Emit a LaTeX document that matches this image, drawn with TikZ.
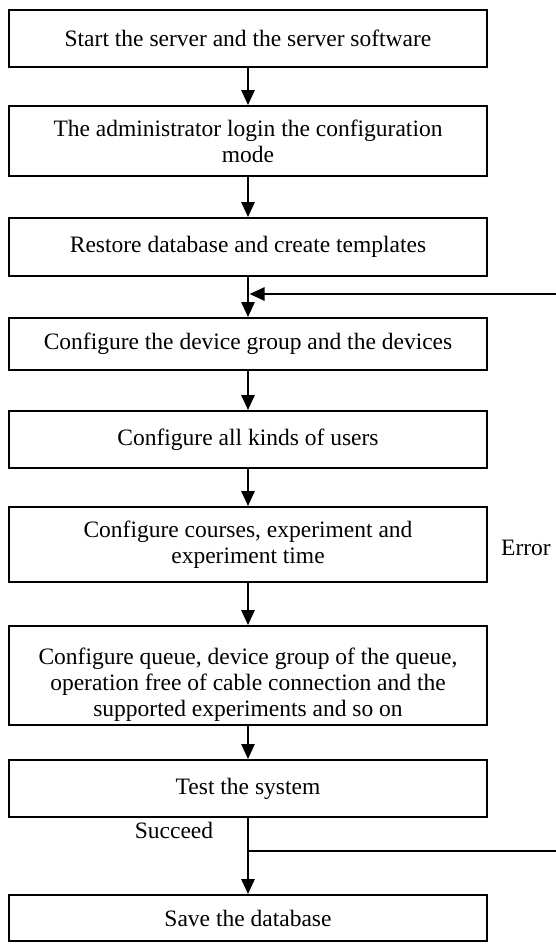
\documentclass[tikz,border=0pt]{standalone}
\usepackage{fontspec}
\setmainfont{Liberation Serif}
\usetikzlibrary{arrows.meta}
\begin{document}
\begin{tikzpicture}[x=1pt,y=-1pt,
  box/.style={draw, line width=1.8pt, minimum width=478pt, inner sep=0pt, align=center, font=\fontsize{23.5}{26}\selectfont},
  txt/.style={align=center, font=\fontsize{23.5}{26}\selectfont, inner sep=0pt},
  arr/.style={line width=2.5pt, -{Triangle[width=13pt,length=15pt]}},
  ln/.style={line width=2pt}]
\useasboundingbox (0,0) rectangle (555,948);
\node[box, minimum height=57pt] (b1) at (248,38.5) {Start the server and the server software};
\node[box, minimum height=70pt] (b2) at (248,141) {The administrator login the configuration\\mode};
\node[box, minimum height=58pt] (b3) at (248,247) {Restore database and create templates};
\node[box, minimum height=52pt] (b4) at (248,344) {Configure the device group and the devices};
\node[box, minimum height=57pt] (b5) at (248,439.5) {Configure all kinds of users};
\node[box, minimum height=75pt] (b6) at (248,544.5) {Configure courses, experiment and\\experiment time};
\node[box, minimum height=99pt] (b7) at (248,675.5) {};
\node[txt] (t7) at (248,685) {Configure queue, device group of the queue,\\operation free of cable connection and the\\supported experiments and so on};
\node[box, minimum height=57pt] (b8) at (248,788.5) {Test the system};
\node[box, minimum height=46pt] (b9) at (248,918) {Save the database};
\node[txt, anchor=west] (err) at (501,548) {Error};
\node[txt] (suc) at (174,830) {Succeed};
\coordinate (j1) at (249.5,294);
\coordinate (e1) at (556,294);
\coordinate (j2) at (248,851);
\coordinate (e2) at (556,851);
\draw[arr] (b1.south) -- (b2.north);
\draw[arr] (b2.south) -- (b3.north);
\draw[arr] (b3.south) -- (b4.north);
\draw[arr] (b4.south) -- (b5.north);
\draw[arr] (b5.south) -- (b6.north);
\draw[arr] (b6.south) -- (b7.north);
\draw[arr] (b7.south) -- (b8.north);
\draw[arr] (b8.south) -- (b9.north);
\draw[arr] (e1) -- (j1);
\draw[ln] (j2) -- (e2);
\end{tikzpicture}
\end{document}
